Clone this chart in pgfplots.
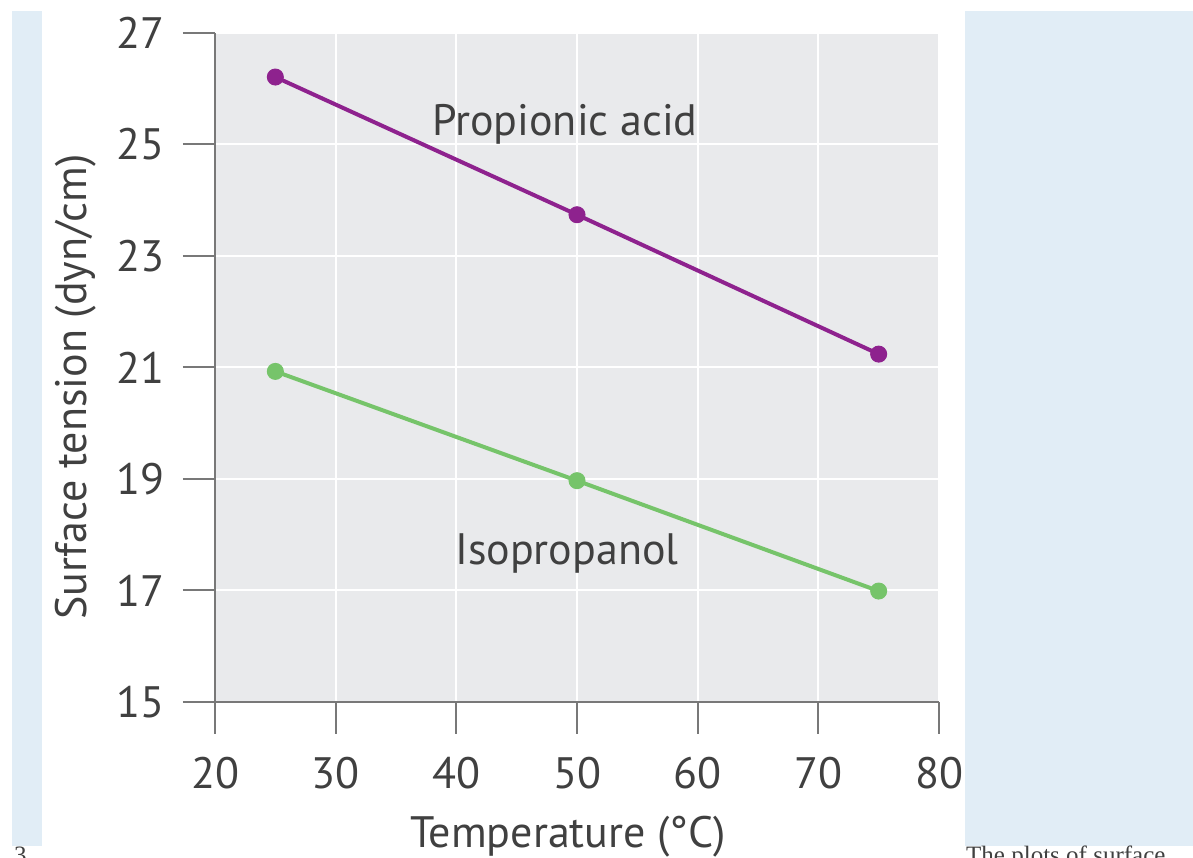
\documentclass[border=0pt]{standalone}
\usepackage{fontspec}
\setmainfont{PT Sans}
\newfontfamily\seriffont{Liberation Serif}
\usepackage{pgfplots}
\pgfplotsset{compat=1.18}
\definecolor{bgblue}{RGB}{225,237,246}
\definecolor{plotbg}{RGB}{233,234,236}
\definecolor{axgray}{RGB}{120,120,120}
\definecolor{txt}{RGB}{64,64,64}
\definecolor{purp}{RGB}{142,34,142}
\definecolor{grn}{RGB}{118,196,106}
\begin{document}
\begin{tikzpicture}[x=1pt,y=1pt]
\useasboundingbox (0,0) rectangle (1193,858);
\fill[white] (0,0) rectangle (1193,858);
\fill[bgblue] (12,12) rectangle (42,847);
\fill[bgblue] (965,12) rectangle (1193,847);
\node[anchor=base west, font=\seriffont\fontsize{25}{30}\selectfont, text=txt, inner sep=0pt] at (966,-6) {The plots of surface};
\node[anchor=base west, font=\seriffont\fontsize{25}{30}\selectfont, text=txt, inner sep=0pt] at (14,-6) {3};
\begin{axis}[
  at={(215pt,156pt)}, anchor=south west,
  scale only axis, width=724pt, height=669pt,
  xmin=20, xmax=80, ymin=15, ymax=27,
  xtick={20,30,...,80}, ytick={15,17,...,27},
  axis x line=bottom, axis y line=left,
  axis line style={-, axgray, line width=2pt},
  tick align=outside, major tick length=32pt,
  tick style={axgray, line width=2pt},
  grid=major, grid style={white, line width=2pt},
  axis background/.style={fill=plotbg},
  ticklabel style={font=\fontsize{44}{50}\selectfont, text=txt},
  yticklabel style={xshift=-15pt},
  xticklabel style={yshift=-20pt},
  /pgf/number format/assume math mode=true,
  xlabel={Temperature (°C)}, ylabel={Surface tension (dyn/cm)},
  label style={font=\fontsize{44}{50}\selectfont, text=txt, inner sep=0pt},
  xlabel style={at={(axis description cs:0.4876,-0.218)}, anchor=base},
  ylabel style={at={(axis description cs:-0.1768,0.471)}, anchor=base},
  clip=false,
]
\addplot[purp, line width=4pt, mark=*, mark size=8pt, mark options={line width=1pt, fill=purp, draw=purp}]
  coordinates {(25,26.21) (50,23.74) (75,21.24)};
\addplot[grn, line width=4pt, mark=*, mark size=8pt, mark options={line width=1pt, fill=grn, draw=grn}]
  coordinates {(25,20.93) (50,18.97) (75,16.99)};
\node[anchor=base west, inner sep=0pt, font=\fontsize{44}{50}\selectfont, text=txt] at (axis cs:37.98,25.17) {Propionic acid};
\node[anchor=base west, inner sep=0pt, font=\fontsize{44}{50}\selectfont, text=txt] at (axis cs:39.89,17.46) {Isopropanol};
\end{axis}
\end{tikzpicture}
\end{document}
